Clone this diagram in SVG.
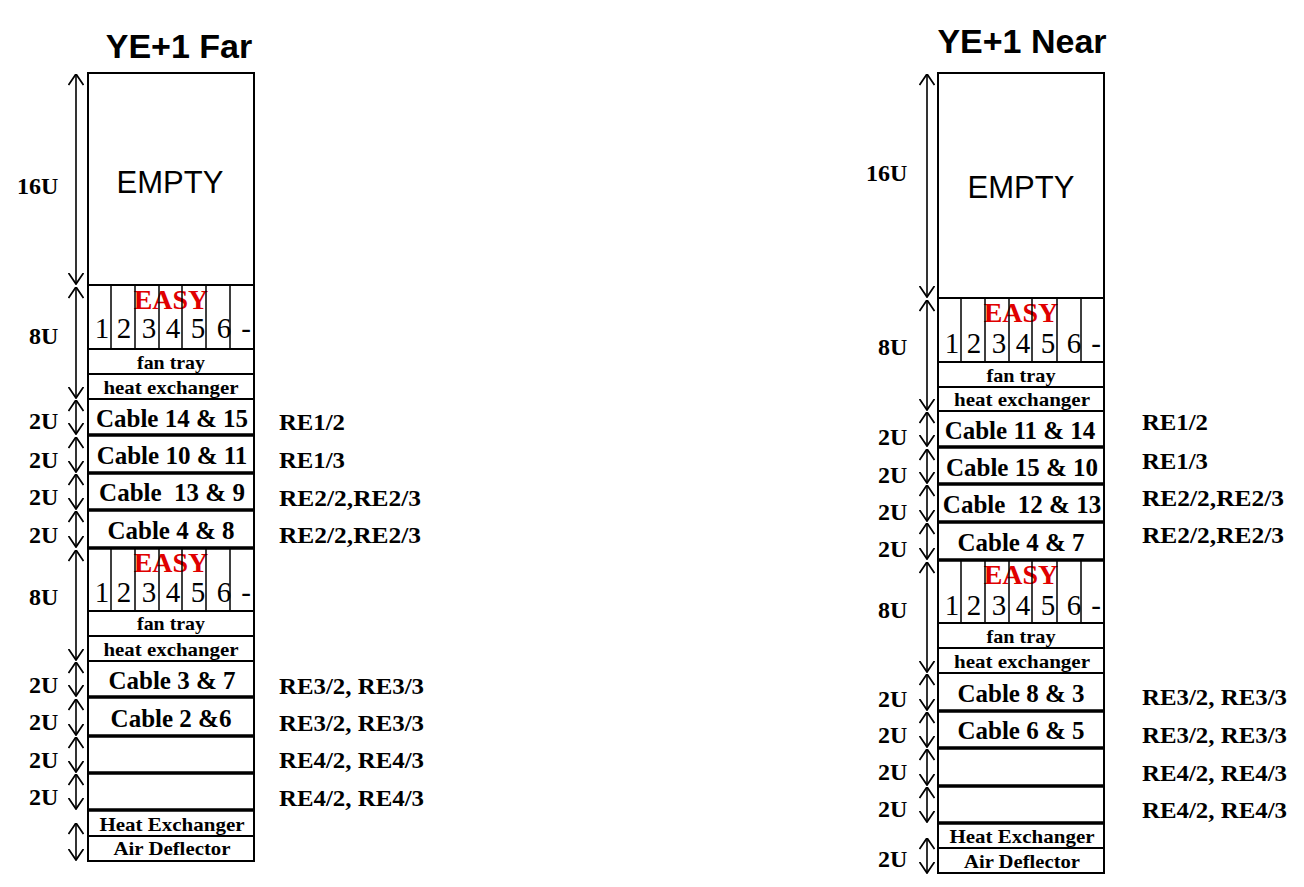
<svg xmlns="http://www.w3.org/2000/svg" width="1304" height="887" viewBox="0 0 1304 887">
<defs>
<marker id="ah" viewBox="0 0 12 16" refX="11.5" refY="8" markerWidth="12" markerHeight="16" markerUnits="userSpaceOnUse" orient="auto-start-reverse">
<path d="M0.5,0.5 L11.5,8 L0.5,15.5" fill="none" stroke="#000" stroke-width="1.8"/>
</marker>
</defs>
<style>
.bx{fill:#fff;stroke:#000;stroke-width:2}
.thin{stroke:#000;stroke-width:1.5;fill:none}
.thk{stroke:#000;stroke-width:3.5;fill:none}
.ttl{font-family:"Liberation Sans",Arial,sans-serif;font-weight:bold;font-size:34px;text-anchor:middle;fill:#000}
.emp{font-family:"Liberation Sans",Arial,sans-serif;font-size:31px;text-anchor:middle;fill:#000}
.easy{font-family:"Liberation Serif","Times New Roman",serif;font-weight:bold;font-size:28px;text-anchor:middle;fill:#e00000}
.num{font-family:"Liberation Serif","Times New Roman",serif;font-size:29px;text-anchor:middle;fill:#000}
.sm{font-family:"Liberation Serif","Times New Roman",serif;font-weight:bold;font-size:19px;text-anchor:middle;fill:#000}
.cab{font-family:"Liberation Serif","Times New Roman",serif;font-weight:bold;font-size:25px;text-anchor:middle;fill:#000;white-space:pre}
.u{font-family:"Liberation Serif","Times New Roman",serif;font-weight:bold;font-size:24px;fill:#000}
.re{font-family:"Liberation Serif","Times New Roman",serif;font-weight:bold;font-size:24px;fill:#000}
.arr{stroke:#000;stroke-width:1.6;fill:none;marker-start:url(#ah);marker-end:url(#ah)}
</style>
<rect width="1304" height="887" fill="#fff"/>

<!-- ===== LEFT RACK: YE+1 Far ===== -->
<g id="far-title"><text class="ttl" x="179" y="58">YE+1 Far</text></g>
<g id="far-empty"><rect class="bx" x="88" y="73" width="166" height="212"/><text class="emp" x="170" y="193">EMPTY</text></g>
<g id="far-easy-1">
<rect class="bx" x="88" y="285" width="166" height="64"/>
<text class="easy" x="171" y="309">EASY</text>
<g class="num"><text x="102" y="338">1</text><text x="124" y="338">2</text><text x="149" y="338">3</text><text x="173" y="338">4</text><text x="198" y="338">5</text><text x="224" y="338">6</text><text x="246" y="338">-</text></g>
<path class="thin" d="M111,285V349M135,285V349M159,285V349M182,285V349M206,285V349M230,285V349"/>
</g>
<g id="far-fan-1"><rect class="bx" x="88" y="349" width="166" height="25" stroke-width="1.5"/><text class="sm" x="171" y="369" textLength="68" lengthAdjust="spacingAndGlyphs">fan tray</text></g>
<g id="far-hx-1"><rect class="bx" x="88" y="374" width="166" height="25" stroke-width="1.5"/><text class="sm" x="171" y="394" textLength="135" lengthAdjust="spacingAndGlyphs">heat exchanger</text></g>
<g id="far-cable-14-15"><rect class="bx" x="88" y="399" width="166" height="36"/><text class="cab" x="172" y="427">Cable 14 &amp; 15</text></g>
<g id="far-cable-10-11"><rect class="bx" x="88" y="435" width="166" height="38"/><text class="cab" x="172" y="464">Cable 10 &amp; 11</text></g>
<g id="far-cable-13-9"><rect class="bx" x="88" y="473" width="166" height="37"/><text class="cab" x="172" y="501">Cable  13 &amp; 9</text></g>
<g id="far-cable-4-8"><rect class="bx" x="88" y="510" width="166" height="38"/><text class="cab" x="171" y="539">Cable 4 &amp; 8</text></g>
<g id="far-easy-2">
<rect class="bx" x="88" y="548" width="166" height="63"/>
<text class="easy" x="171" y="572">EASY</text>
<g class="num"><text x="102" y="602">1</text><text x="124" y="602">2</text><text x="149" y="602">3</text><text x="173" y="602">4</text><text x="198" y="602">5</text><text x="224" y="602">6</text><text x="246" y="602">-</text></g>
<path class="thin" d="M111,548V611M135,548V611M159,548V611M182,548V611M206,548V611M230,548V611"/>
</g>
<g id="far-fan-2"><rect class="bx" x="88" y="611" width="166" height="25" stroke-width="1.5"/><text class="sm" x="171" y="630" textLength="68" lengthAdjust="spacingAndGlyphs">fan tray</text></g>
<g id="far-hx-2"><rect class="bx" x="88" y="636" width="166" height="25" stroke-width="1.5"/><text class="sm" x="171" y="656" textLength="135" lengthAdjust="spacingAndGlyphs">heat exchanger</text></g>
<g id="far-cable-3-7"><rect class="bx" x="88" y="661" width="166" height="36"/><text class="cab" x="172" y="689">Cable 3 &amp; 7</text></g>
<g id="far-cable-2-6"><rect class="bx" x="88" y="697" width="166" height="39"/><text class="cab" x="171" y="727">Cable 2 &amp;6</text></g>
<g id="far-slot-a"><rect class="bx" x="88" y="736" width="166" height="37"/></g>
<g id="far-slot-b"><rect class="bx" x="88" y="773" width="166" height="37"/></g>
<g id="far-hx-bottom"><rect class="bx" x="88" y="810" width="166" height="26"/><text class="sm" x="172" y="831" textLength="145" lengthAdjust="spacingAndGlyphs">Heat Exchanger</text></g>
<g id="far-air"><rect class="bx" x="88" y="836" width="166" height="25"/><text class="sm" x="172" y="855" textLength="117" lengthAdjust="spacingAndGlyphs">Air Deflector</text></g>
<path class="thk" d="M88,435H254M88,473H254M88,510H254M88,548H254M88,697H254M88,736H254M88,773H254M88,810H254"/>
<g id="far-labels">
<text class="u" x="17" y="194">16U</text>
<text class="u" x="29" y="344">8U</text>
<text class="u" x="29" y="429">2U</text>
<text class="u" x="29" y="468">2U</text>
<text class="u" x="29" y="505">2U</text>
<text class="u" x="29" y="543">2U</text>
<text class="u" x="29" y="605">8U</text>
<text class="u" x="29" y="693">2U</text>
<text class="u" x="29" y="730">2U</text>
<text class="u" x="29" y="768">2U</text>
<text class="u" x="29" y="805">2U</text>
<text class="re" x="279" y="430" textLength="66" lengthAdjust="spacingAndGlyphs">RE1/2</text>
<text class="re" x="279" y="468" textLength="66" lengthAdjust="spacingAndGlyphs">RE1/3</text>
<text class="re" x="279" y="506" textLength="142" lengthAdjust="spacingAndGlyphs">RE2/2,RE2/3</text>
<text class="re" x="279" y="543" textLength="142" lengthAdjust="spacingAndGlyphs">RE2/2,RE2/3</text>
<text class="re" x="279" y="694" textLength="145" lengthAdjust="spacingAndGlyphs">RE3/2, RE3/3</text>
<text class="re" x="279" y="731" textLength="145" lengthAdjust="spacingAndGlyphs">RE3/2, RE3/3</text>
<text class="re" x="279" y="768" textLength="145" lengthAdjust="spacingAndGlyphs">RE4/2, RE4/3</text>
<text class="re" x="279" y="806" textLength="145" lengthAdjust="spacingAndGlyphs">RE4/2, RE4/3</text>
</g>

<!-- ===== RIGHT RACK: YE+1 Near ===== -->
<g id="near-title"><text class="ttl" x="1022" y="53">YE+1 Near</text></g>
<g id="near-empty"><rect class="bx" x="938" y="73" width="166" height="225"/><text class="emp" x="1021" y="198">EMPTY</text></g>
<g id="near-easy-1">
<rect class="bx" x="938" y="298" width="166" height="64"/>
<text class="easy" x="1021" y="322">EASY</text>
<g class="num"><text x="952" y="353">1</text><text x="974" y="353">2</text><text x="999" y="353">3</text><text x="1023" y="353">4</text><text x="1048" y="353">5</text><text x="1074" y="353">6</text><text x="1096" y="353">-</text></g>
<path class="thin" d="M961,298V362M985,298V362M1009,298V362M1032,298V362M1057,298V362M1081,298V362"/>
</g>
<g id="near-fan-1"><rect class="bx" x="938" y="362" width="166" height="25" stroke-width="1.5"/><text class="sm" x="1021" y="382" textLength="69" lengthAdjust="spacingAndGlyphs">fan tray</text></g>
<g id="near-hx-1"><rect class="bx" x="938" y="387" width="166" height="24" stroke-width="1.5"/><text class="sm" x="1022" y="406" textLength="136" lengthAdjust="spacingAndGlyphs">heat exchanger</text></g>
<g id="near-cable-11-14"><rect class="bx" x="938" y="411" width="166" height="36"/><text class="cab" x="1020" y="439">Cable 11 &amp; 14</text></g>
<g id="near-cable-15-10"><rect class="bx" x="938" y="447" width="166" height="37"/><text class="cab" x="1022" y="476">Cable 15 &amp; 10</text></g>
<g id="near-cable-12-13"><rect class="bx" x="938" y="484" width="166" height="38"/><text class="cab" x="1022" y="513">Cable  12 &amp; 13</text></g>
<g id="near-cable-4-7"><rect class="bx" x="938" y="522" width="166" height="38"/><text class="cab" x="1021" y="551">Cable 4 &amp; 7</text></g>
<g id="near-easy-2">
<rect class="bx" x="938" y="560" width="166" height="63"/>
<text class="easy" x="1021" y="584">EASY</text>
<g class="num"><text x="952" y="615">1</text><text x="974" y="615">2</text><text x="999" y="615">3</text><text x="1023" y="615">4</text><text x="1048" y="615">5</text><text x="1074" y="615">6</text><text x="1096" y="615">-</text></g>
<path class="thin" d="M961,560V623M985,560V623M1009,560V623M1032,560V623M1057,560V623M1081,560V623"/>
</g>
<g id="near-fan-2"><rect class="bx" x="938" y="623" width="166" height="25" stroke-width="1.5"/><text class="sm" x="1021" y="643" textLength="69" lengthAdjust="spacingAndGlyphs">fan tray</text></g>
<g id="near-hx-2"><rect class="bx" x="938" y="648" width="166" height="25" stroke-width="1.5"/><text class="sm" x="1022" y="668" textLength="136" lengthAdjust="spacingAndGlyphs">heat exchanger</text></g>
<g id="near-cable-8-3"><rect class="bx" x="938" y="673" width="166" height="38"/><text class="cab" x="1021" y="702">Cable 8 &amp; 3</text></g>
<g id="near-cable-6-5"><rect class="bx" x="938" y="711" width="166" height="37"/><text class="cab" x="1021" y="739">Cable 6 &amp; 5</text></g>
<g id="near-slot-a"><rect class="bx" x="938" y="748" width="166" height="38"/></g>
<g id="near-slot-b"><rect class="bx" x="938" y="786" width="166" height="37"/></g>
<g id="near-hx-bottom"><rect class="bx" x="938" y="823" width="166" height="25"/><text class="sm" x="1022" y="843" textLength="145" lengthAdjust="spacingAndGlyphs">Heat Exchanger</text></g>
<g id="near-air"><rect class="bx" x="938" y="848" width="166" height="25"/><text class="sm" x="1022" y="868" textLength="116" lengthAdjust="spacingAndGlyphs">Air Deflector</text></g>
<path class="thk" d="M938,447H1104M938,484H1104M938,522H1104M938,560H1104M938,711H1104M938,748H1104M938,786H1104M938,823H1104"/>
<g id="near-labels">
<text class="u" x="866" y="181">16U</text>
<text class="u" x="878" y="355">8U</text>
<text class="u" x="878" y="445">2U</text>
<text class="u" x="878" y="483">2U</text>
<text class="u" x="878" y="520">2U</text>
<text class="u" x="878" y="557">2U</text>
<text class="u" x="878" y="618">8U</text>
<text class="u" x="878" y="707">2U</text>
<text class="u" x="878" y="743">2U</text>
<text class="u" x="878" y="780">2U</text>
<text class="u" x="878" y="817">2U</text>
<text class="u" x="878" y="867">2U</text>
<text class="re" x="1142" y="430" textLength="66" lengthAdjust="spacingAndGlyphs">RE1/2</text>
<text class="re" x="1142" y="469" textLength="66" lengthAdjust="spacingAndGlyphs">RE1/3</text>
<text class="re" x="1142" y="506" textLength="142" lengthAdjust="spacingAndGlyphs">RE2/2,RE2/3</text>
<text class="re" x="1142" y="543" textLength="142" lengthAdjust="spacingAndGlyphs">RE2/2,RE2/3</text>
<text class="re" x="1142" y="705" textLength="145" lengthAdjust="spacingAndGlyphs">RE3/2, RE3/3</text>
<text class="re" x="1142" y="743" textLength="145" lengthAdjust="spacingAndGlyphs">RE3/2, RE3/3</text>
<text class="re" x="1142" y="781" textLength="145" lengthAdjust="spacingAndGlyphs">RE4/2, RE4/3</text>
<text class="re" x="1142" y="818" textLength="145" lengthAdjust="spacingAndGlyphs">RE4/2, RE4/3</text>
</g>

<!-- ===== CONNECTORS (dimension arrows) ===== -->
<g id="connectors">
<path class="arr" d="M76,74V284"/>
<path class="arr" d="M76,287V398"/>
<path class="arr" d="M76,400V434"/>
<path class="arr" d="M76,437V472"/>
<path class="arr" d="M76,474V509"/>
<path class="arr" d="M76,511V547"/>
<path class="arr" d="M76,550V660"/>
<path class="arr" d="M76,662V696"/>
<path class="arr" d="M76,699V735"/>
<path class="arr" d="M76,737V772"/>
<path class="arr" d="M76,774V809"/>
<path class="arr" d="M76,823V860"/>
<path class="arr" d="M927,74V297"/>
<path class="arr" d="M927,300V410"/>
<path class="arr" d="M927,412V446"/>
<path class="arr" d="M927,449V483"/>
<path class="arr" d="M927,485V521"/>
<path class="arr" d="M927,523V559"/>
<path class="arr" d="M927,562V672"/>
<path class="arr" d="M927,674V710"/>
<path class="arr" d="M927,712V747"/>
<path class="arr" d="M927,749V785"/>
<path class="arr" d="M927,787V822"/>
<path class="arr" d="M927,838V873"/>
</g>
</svg>
